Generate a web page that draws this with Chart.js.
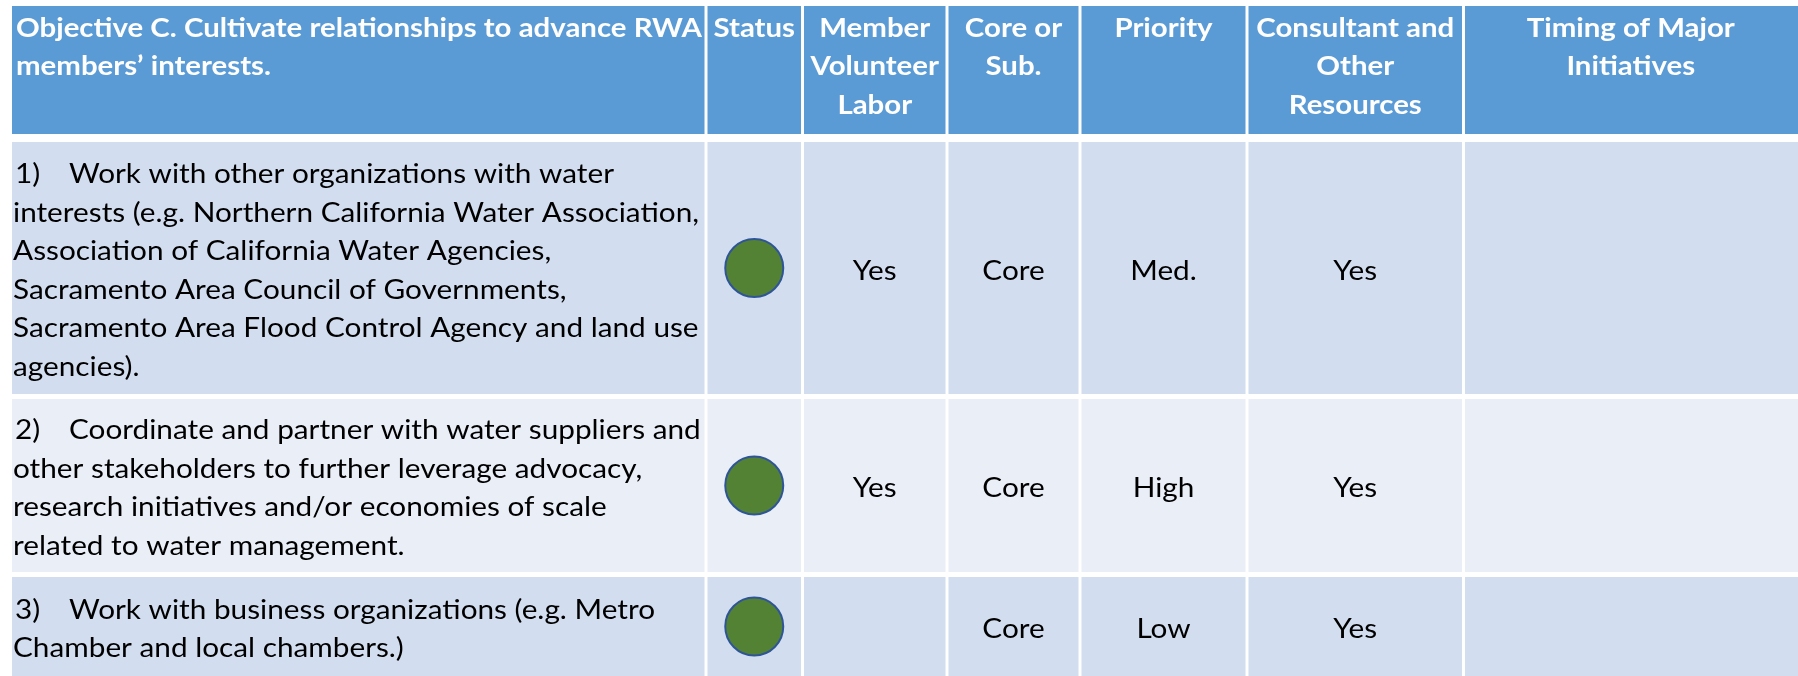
<!DOCTYPE html>
<html>
<head>
<meta charset="utf-8">
<title>Objective C table</title>
<script src="https://cdn.jsdelivr.net/npm/chart.js@4.4.1/dist/chart.umd.min.js"></script>
<style>
    html, body { margin: 0; padding: 0; background: #ffffff; }
    canvas { display: block; }
</style>
</head>
<body>
<canvas id="tableChart" width="1798" height="676"></canvas>
<script>
// --- table content ---
const headerLines = [
    ['Objective C. Cultivate relationships to advance RWA', 'members\u2019 interests.'],
    ['Status'],
    ['Member', 'Volunteer', 'Labor'],
    ['Core or', 'Sub.'],
    ['Priority'],
    ['Consultant and', 'Other', 'Resources'],
    ['Timing of Major', 'Initiatives']
];
const objectives = [
    ['1)\tWork with other organizations with water',
     'interests (e.g. Northern California Water Association,',
     'Association of California Water Agencies,',
     'Sacramento Area Council of Governments,',
     'Sacramento Area Flood Control Agency and land use',
     'agencies).'],
    ['2)\tCoordinate and partner with water suppliers and',
     'other stakeholders to further leverage advocacy,',
     'research initiatives and/or economies of scale',
     'related to water management.'],
    ['3)\tWork with business organizations (e.g. Metro',
     'Chamber and local chambers.)']
];
const statusOn = [true, true, true];
const volunteerLabor = ['Yes', 'Yes', ''];
const coreOrSub = ['Core', 'Core', 'Core'];
const priority = ['Med.', 'High', 'Low'];
const resources = ['Yes', 'Yes', 'Yes'];
const timing = ['', '', ''];

// --- layout (pixels of the 1798x676 page) ---
const colEdges = [12, 706, 802.5, 947, 1080, 1247, 1463.5, 1798];
const headerBand = [6, 134];
const rowBands = [[142, 394], [399, 572], [577, 676]];
const GAP = 3;
const LINE_H = 38.5;
const TAB_X = 69;
const TEXT_X = 15;

const HEADER_BG = '#5B9BD5';
const ROW_BG = ['#D2DEEF', '#E9EEF7', '#D2DEEF'];
const FONT_FAMILY = 'Lato, "Open Sans", sans-serif';
const HEADER_FONT = 'bold 27px ' + FONT_FAMILY;
const BODY_FONT = '27px ' + FONT_FAMILY;

function colCenter(i) { return (colEdges[i] + colEdges[i + 1]) / 2; }
function rowCenter(i) { return (rowBands[i][0] + rowBands[i][1]) / 2; }

// one horizontal squeeze for each font so the long lines fill the cell like the original
let headerSx = 1, bodySx = 1;
function measureFits(ctx) {
    ctx.font = HEADER_FONT;
    headerSx = 686 / ctx.measureText(headerLines[0][0]).width;
    ctx.font = BODY_FONT;
    bodySx = 686 / ctx.measureText(objectives[0][1]).width;
}

function drawText(ctx, text, x, y, sx, align) {
    ctx.save();
    ctx.translate(x, y);
    ctx.scale(sx, 1);
    ctx.textAlign = align;
    ctx.fillText(text, 0, 0);
    ctx.restore();
}

const tablePlugin = {
    id: 'tableCells',
    beforeDatasetsDraw(chart) {
        const { ctx, scales: { x, y } } = chart;
        const px = v => x.getPixelForValue(v);
        const py = v => y.getPixelForValue(v);
        measureFits(ctx);
        ctx.save();
        ctx.textBaseline = 'alphabetic';

        // cells
        const bands = [headerBand].concat(rowBands);
        bands.forEach((band, r) => {
            ctx.fillStyle = r === 0 ? HEADER_BG : ROW_BG[r - 1];
            for (let c = 0; c < colEdges.length - 1; c++) {
                const l = px(colEdges[c]) + (c === 0 ? 0 : GAP / 2);
                const rr = px(colEdges[c + 1]) - (c === colEdges.length - 2 ? 0 : GAP / 2);
                const t = py(band[0]), b = py(band[1]);
                ctx.fillRect(l, t, rr - l, b - t);
            }
        });

        // header text
        ctx.fillStyle = '#ffffff';
        ctx.font = HEADER_FONT;
        headerLines.forEach((lines, c) => {
            lines.forEach((line, k) => {
                const base = py(headerBand[0]) + 30.7 + k * LINE_H;
                if (c === 0) drawText(ctx, line, px(colEdges[0]) + 4, base, headerSx, 'left');
                else drawText(ctx, line, px(colCenter(c)), base, headerSx, 'center');
            });
        });

        // body text
        ctx.fillStyle = '#000000';
        ctx.font = BODY_FONT;
        const cols = [null, null, volunteerLabor, coreOrSub, priority, resources, timing];
        rowBands.forEach((band, r) => {
            const cy = py(rowCenter(r)) + 11.5;
            const lines = objectives[r];
            lines.forEach((line, k) => {
                const base = cy + (k - (lines.length - 1) / 2) * LINE_H;
                const parts = line.split('\t');
                if (parts.length > 1) {
                    drawText(ctx, parts[0], px(colEdges[0]) + TEXT_X - 12, base, bodySx, 'left');
                    drawText(ctx, parts[1], px(TAB_X), base, bodySx, 'left');
                } else {
                    drawText(ctx, line, px(colEdges[0]) + 1, base, bodySx, 'left');
                }
            });
            cols.forEach((vals, c) => {
                if (!vals || !vals[r]) return;
                drawText(ctx, vals[r], px(colCenter(c)), cy, bodySx, 'center');
            });
        });
        ctx.restore();
    }
};

const statusPoints = statusOn
    .map((on, i) => on ? { x: colCenter(1), y: rowCenter(i) } : null)
    .filter(p => p);

function build() {
    new Chart(document.getElementById('tableChart'), {
        type: 'scatter',
        data: {
            datasets: [{
                label: 'Status',
                data: statusPoints,
                pointStyle: 'circle',
                pointRadius: 29,
                pointHoverRadius: 29,
                backgroundColor: '#548235',
                borderColor: '#2F5597',
                borderWidth: 2
            }]
        },
        options: {
            responsive: false,
            devicePixelRatio: 1,
            animation: false,
            layout: { padding: 0, autoPadding: false },
            plugins: { legend: { display: false }, tooltip: { enabled: false } },
            scales: {
                x: { type: 'linear', min: 0, max: 1798, display: false },
                y: { type: 'linear', min: 0, max: 676, reverse: true, display: false }
            }
        },
        plugins: [tablePlugin]
    });
}

if (document.fonts && document.fonts.load) {
    Promise.all([document.fonts.load(BODY_FONT), document.fonts.load(HEADER_FONT)]).then(build, build);
} else {
    build();
}
</script>
</body>
</html>
